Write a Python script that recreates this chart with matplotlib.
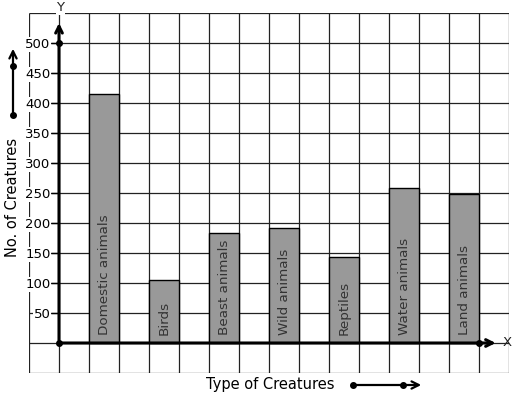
import numpy as np
import matplotlib.pyplot as plt

creatures = ['Domestic animals', 'Birds', 'Beast animals', 'Wild animals',
             'Reptiles', 'Water animals', 'Land animals']
counts = [415, 105, 184, 191, 144, 258, 249]
y_ticks = [50, 100, 150, 200, 250, 300, 350, 400, 450, 500]

W, H = 517, 399
fig = plt.figure(figsize=(W / 100, H / 100), dpi=100)
ax = fig.add_axes([29 / W, (H - 373) / H, 480 / W, 360 / H])
ax.set_xlim(-1, 15)
ax.set_ylim(-50, 550)

# squared paper
ax.hlines(np.arange(-50, 551, 50), -1, 15, color='#222222', lw=0.9, zorder=1)
ax.vlines(np.arange(-1, 16), -50, 550, color='#222222', lw=0.9, zorder=1)

# bars sit on every other column
xpos = np.arange(len(creatures)) * 2 + 1.5
ax.bar(xpos, counts, width=1, color='#999999', edgecolor='black', lw=1.0, zorder=2)
for x, name in zip(xpos, creatures):
    ax.text(x, 14, name, rotation=90, ha='center', va='bottom',
            fontsize=9.7, color='#333333', zorder=3)

for s in ax.spines.values():
    s.set_visible(False)
ax.set_xticks([])
ax.spines['left'].set_position(('data', 0))
ax.set_yticks(y_ticks)
ax.set_yticklabels([str(v) for v in y_ticks])
ax.tick_params(axis='y', length=6, width=1, direction='out', labelsize=9.5, pad=0)
for lab in ax.get_yticklabels():
    lab.set_bbox(dict(facecolor='white', edgecolor='none', pad=0.5))

# axes with arrows
ax.annotate('', xy=(0, 538), xytext=(0, 0),
            arrowprops=dict(arrowstyle='->', lw=2.2, color='black', mutation_scale=12), zorder=4)
ax.annotate('', xy=(14.65, 0), xytext=(0, 0),
            arrowprops=dict(arrowstyle='->', lw=2.2, color='black', mutation_scale=12), zorder=4)
ax.plot([0, 0, 14], [0, 500, 0], 'o', color='black', ms=4, zorder=5, clip_on=False)
ax.text(14.65 + 0.15, 0, 'X', ha='left', va='center', fontsize=9.5, color='#222222')
ax.text(0.05, 548, 'Y', ha='center', va='bottom', fontsize=9.5, color='#222222',
        bbox=dict(facecolor='white', edgecolor='none', pad=0.3))

# axis titles with decorative arrows
fig.text(206 / W, 1 - 384 / H, 'Type of Creatures', ha='left', va='center', fontsize=10.5)
fig.text(13 / W, 1 - 197 / H, 'No. of Creatures', rotation=90, ha='center', va='center', fontsize=10.5)

arr = dict(arrowstyle='->', lw=1.6, color='black', mutation_scale=13)
ax.annotate('', xy=(424, H - 385), xytext=(353, H - 385), xycoords='figure pixels',
            textcoords='figure pixels', arrowprops=arr, annotation_clip=False)
ax.annotate('', xy=(13, H - 46), xytext=(13, H - 115), xycoords='figure pixels',
            textcoords='figure pixels', arrowprops=arr, annotation_clip=False)
for px, py in [(353, 385), (403, 385), (13, 115), (13, 66)]:
    fig.add_artist(plt.Line2D([px / W], [1 - py / H], marker='o', ms=4, color='black',
                              transform=fig.transFigure))

fig.savefig('out.png', dpi=100)
